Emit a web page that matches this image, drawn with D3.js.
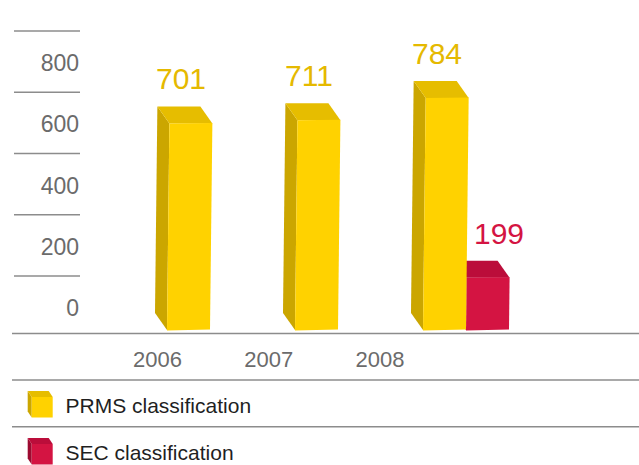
<!DOCTYPE html>
<html>
<head>
<meta charset="utf-8">
<script src="https://cdn.jsdelivr.net/npm/d3@7"></script>
<style>
  html, body { margin: 0; padding: 0; background: #fff; }
  svg { display: block; font-family: "Liberation Sans", Arial, Helvetica, sans-serif; }
</style>
</head>
<body>
<svg id="chart" width="639" height="465"></svg>
<script>
// Reserves by classification, per year
const years = ["2006", "2007", "2008"];
const prmsValues = [701, 711, 784];
const secValues = [null, null, 199];
const tickValues = [0, 200, 400, 600, 800];
const seriesNames = ["PRMS classification", "SEC classification"];

const palette = {
  prms: { front: "#ffd200", top: "#e6bd00", side: "#cba600", label: "#e5b900" },
  sec:  { front: "#d41442", top: "#bb0d3a", side: "#9c0a30", label: "#d41442" }
};

const svg = d3.select("#chart");
const W = 639;

// value scale for the bars (3D floor sits slightly above value zero)
const y = d3.scaleLinear().domain([0, 800]).range([339, 93]);
const floorY = 330;
// scale for the left tick labels (text baselines)
const yTick = d3.scaleLinear().domain([0, 800]).range([316, 71]);
// bar groups and year labels
const x = d3.scaleBand().domain(years).range([167, 167 + 128 * years.length]);
const xLabel = d3.scalePoint().domain(years).range([157.5, 380]);

const barW = 43, depthX = -12, depthY = -17, lean = 0.0115;
const ruleColor = "#8c8c8c";

// left tick labels with a rule above each
const ticks = svg.append("g");
ticks.selectAll("line").data(tickValues).join("line")
  .attr("x1", 14).attr("x2", 80)
  .attr("y1", d => yTick(d) - 40).attr("y2", d => yTick(d) - 40)
  .attr("stroke", ruleColor).attr("stroke-width", 1.5);
ticks.selectAll("text").data(tickValues).join("text")
  .attr("x", 79).attr("y", d => yTick(d))
  .attr("text-anchor", "end")
  .attr("font-size", 23).attr("fill", "#6b6b6b")
  .text(d => d3.format("d")(d));

// bars: flatten into drawable records, SEC drawn before PRMS so it sits behind
const bars = [];
years.forEach((yr, i) => {
  if (secValues[i] != null) bars.push({ year: yr, value: secValues[i], slot: 1, c: palette.sec, off: 33 });
});
years.forEach((yr, i) => {
  bars.push({ year: yr, value: prmsValues[i], slot: 0, c: palette.prms, off: 14 });
});

function geom(d) {
  const x0 = x(d.year) + d.slot * barW;
  const yt = y(d.value);
  const l = (floorY - yt) * lean;
  return { x0, yt, l };
}
const pts = a => a.map(p => p.join(",")).join(" ");

const barG = svg.append("g");
bars.forEach(d => {
  const { x0, yt, l } = geom(d);
  const g = barG.append("g");
  // left side face
  g.append("polygon").attr("fill", d.c.side).attr("points", pts([
    [x0, floorY], [x0 + l, yt], [x0 + l + depthX, yt + depthY], [x0 + depthX, floorY + depthY]
  ]));
  // top face
  g.append("polygon").attr("fill", d.c.top).attr("points", pts([
    [x0 + l, yt], [x0 + barW + l, yt], [x0 + barW + l + depthX, yt + depthY], [x0 + l + depthX, yt + depthY]
  ]));
  // front face
  g.append("polygon").attr("fill", d.c.front).attr("points", pts([
    [x0, floorY + 0.5], [x0 + barW, floorY - 0.5], [x0 + barW + l, yt - 0.5], [x0 + l, yt]
  ]));
});

// value labels
svg.append("g").selectAll("text").data(bars).join("text")
  .attr("x", d => geom(d).x0 + d.off)
  .attr("y", d => geom(d).yt - 34)
  .attr("text-anchor", "middle")
  .attr("font-size", 30)
  .attr("fill", d => d.c.label)
  .text(d => d.value);

// base rule and year labels
svg.append("line").attr("x1", 12).attr("x2", W).attr("y1", 333.5).attr("y2", 333.5)
  .attr("stroke", ruleColor).attr("stroke-width", 1.5);
svg.append("g").selectAll("text").data(years).join("text")
  .attr("x", d => xLabel(d)).attr("y", 366.5)
  .attr("text-anchor", "middle")
  .attr("font-size", 22).attr("fill", "#6b6b6b")
  .text(d => d);

// legend
const legendColors = [palette.prms, palette.sec];
const rowBase = d3.scalePoint().domain(seriesNames).range([412.5, 459.5]);
const legend = svg.append("g");
[380, 426.7].forEach(ly => {
  legend.append("line").attr("x1", 12).attr("x2", W).attr("y1", ly).attr("y2", ly)
    .attr("stroke", ruleColor).attr("stroke-width", 1.5);
});
seriesNames.forEach((name, i) => {
  const b = rowBase(name);
  const c = legendColors[i];
  const fx = 31.7, fw = 21, ft = b - 15.5, fb = b + 5, dx = -4, dy = -6;
  legend.append("polygon").attr("fill", c.side).attr("points", pts([
    [fx, fb], [fx, ft], [fx + dx, ft + dy], [fx + dx, fb + dy]
  ]));
  legend.append("polygon").attr("fill", c.top).attr("points", pts([
    [fx, ft], [fx + fw, ft], [fx + fw + dx, ft + dy], [fx + dx, ft + dy]
  ]));
  legend.append("rect").attr("x", fx).attr("y", ft).attr("width", fw).attr("height", fb - ft)
    .attr("fill", c.front);
  legend.append("text").attr("x", 65.5).attr("y", b)
    .attr("font-size", 21).attr("fill", "#1f1f1f")
    .text(name);
});
</script>
</body>
</html>
